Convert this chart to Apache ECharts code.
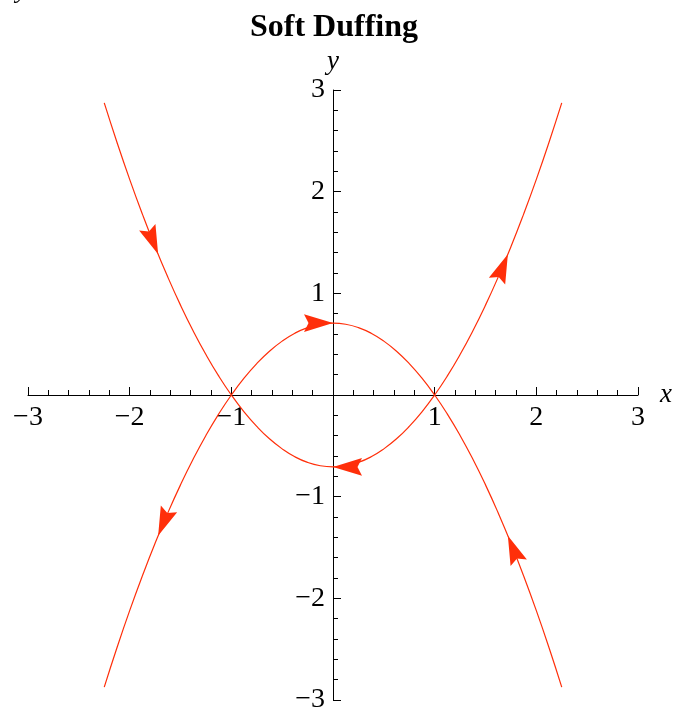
<!DOCTYPE html>
<html>
<head>
<meta charset="utf-8">
<title>Soft Duffing</title>
<script src="https://cdn.jsdelivr.net/npm/echarts@6/dist/echarts.min.js"></script>
<style>
  html, body { margin: 0; padding: 0; background: #fff; }
  #chart { width: 678px; height: 711px; }
</style>
</head>
<body>
<div id="chart"></div>
<script>
// Separatrices of the soft Duffing oscillator in the (x, y) phase plane.
const xs = [-2.25, -2.125, -2, -1.875, -1.75, -1.625, -1.5, -1.375, -1.25, -1.125,
            -1, -0.875, -0.75, -0.625, -0.5, -0.375, -0.25, -0.125, 0,
            0.125, 0.25, 0.375, 0.5, 0.625, 0.75, 0.875, 1,
            1.125, 1.25, 1.375, 1.5, 1.625, 1.75, 1.875, 2, 2.125, 2.25];
// Cap-shaped branch (peak at y = 0.707 on the y axis)
const yCap = [-2.873, -2.486, -2.121, -1.779, -1.458, -1.160, -0.884, -0.630, -0.398, -0.188,
              0, 0.166, 0.309, 0.431, 0.530, 0.608, 0.663, 0.696, 0.707,
              0.696, 0.663, 0.608, 0.530, 0.431, 0.309, 0.166, 0,
              -0.188, -0.398, -0.630, -0.884, -1.160, -1.458, -1.779, -2.121, -2.486, -2.873];
// Cup-shaped branch (trough at y = -0.707 on the y axis)
const yCup = [2.873, 2.486, 2.121, 1.779, 1.458, 1.160, 0.884, 0.630, 0.398, 0.188,
              0, -0.166, -0.309, -0.431, -0.530, -0.608, -0.663, -0.696, -0.707,
              -0.696, -0.663, -0.608, -0.530, -0.431, -0.309, -0.166, 0,
              0.188, 0.398, 0.630, 0.884, 1.160, 1.458, 1.779, 2.121, 2.486, 2.873];

// Flow-direction arrowheads: tip position, branch, and sense of travel along x
const arrowX = [-1.72, 1.72, 0, 0, -1.72, 1.72];
const arrowY = [1.385, 1.385, 0.707, -0.707, -1.385, -1.385];
const arrowBranch = ['cup', 'cup', 'cap', 'cup', 'cap', 'cap'];
const arrowSense = [1, 1, 1, -1, -1, -1];

const tickValues = [-3, -2, -1, 0, 1, 2, 3];

const branches = { cap: yCap, cup: yCup };
const RED = '#ff2f0a';
const SERIF = "'Liberation Serif', 'Times New Roman', Times, serif";

const tickLabel = v => (v === 0 ? '' : String(v).replace('-', '\u2212'));

function nearestIndex(x) {
  let best = 1, bestD = Infinity;
  for (let i = 1; i < xs.length - 1; i++) {
    const d = Math.abs(xs[i] - x);
    if (d < bestD) { bestD = d; best = i; }
  }
  return best;
}

function renderArrow(params, api) {
  const k = params.dataIndex;
  const ys = branches[arrowBranch[k]];
  const i = nearestIndex(arrowX[k]);
  const p0 = api.coord([xs[i - 1], ys[i - 1]]);
  const p1 = api.coord([xs[i + 1], ys[i + 1]]);
  let ux = (p1[0] - p0[0]) * arrowSense[k];
  let uy = (p1[1] - p0[1]) * arrowSense[k];
  const len = Math.hypot(ux, uy);
  ux /= len; uy /= len;
  const nx = -uy, ny = ux;
  const tip = api.coord([api.value(0), api.value(1)]);
  const L = 29, W = 8.8, notch = 4.5;
  const bx = tip[0] - L * ux, by = tip[1] - L * uy;
  const points = [
    tip,
    [bx + W * nx, by + W * ny],
    [tip[0] - (L - notch) * ux, tip[1] - (L - notch) * uy],
    [bx - W * nx, by - W * ny]
  ];
  return { type: 'polygon', shape: { points }, style: { fill: RED } };
}

// Axes sit on the grid edges and are shifted inward so they cross at the origin.
const GRID = { left: 28, right: 40, top: 90, bottom: 11 };
const axisCommon = {
  type: 'value',
  min: -3,
  max: 3,
  interval: 1,
  axisLine: { show: true, onZero: false, lineStyle: { color: '#000', width: 1 } },
  axisTick: { show: true, inside: true, length: 8, lineStyle: { color: '#000', width: 1 } },
  minorTick: { show: true, splitNumber: 5, length: 5, lineStyle: { color: '#000', width: 1 } },
  splitLine: { show: false },
  minorSplitLine: { show: false },
  nameTextStyle: { fontFamily: SERIF, fontStyle: 'italic', fontSize: 27, color: '#000' }
};

const chart = echarts.init(document.getElementById('chart'), null, { renderer: 'canvas' });
const plotW = 678 - GRID.left - GRID.right;
const plotH = 711 - GRID.top - GRID.bottom;

chart.setOption({
  animation: false,
  backgroundColor: '#fff',
  title: {
    text: 'Soft Duffing',
    left: 245,
    top: 7,
    textStyle: { fontFamily: SERIF, fontWeight: 'bold', fontSize: 32, color: '#000' }
  },
  graphic: [{
    type: 'text',
    left: 16,
    top: -22,
    style: { text: 'y', font: "italic 26px 'Liberation Serif', serif", fill: '#000' }
  }],
  grid: Object.assign({ containLabel: false, outerBoundsMode: 'none' }, GRID),
  xAxis: Object.assign({}, axisCommon, {
    position: 'bottom',
    offset: -plotH / 2,
    name: 'x',
    nameLocation: 'end',
    nameGap: 22,
    axisLabel: {
      formatter: tickLabel, fontFamily: SERIF, fontSize: 28, color: '#000', margin: 9,
      showMinLabel: true, showMaxLabel: true,
      customValues: tickValues
    }
  }),
  yAxis: Object.assign({}, axisCommon, {
    position: 'left',
    offset: -plotW / 2,
    name: 'y',
    nameLocation: 'end',
    nameGap: 15,
    axisLabel: {
      formatter: tickLabel, fontFamily: SERIF, fontSize: 28, color: '#000', margin: 8,
      showMinLabel: true, showMaxLabel: true,
      customValues: tickValues
    }
  }),
  series: [
    {
      type: 'line',
      data: xs.map((x, i) => [x, yCap[i]]),
      smooth: true,
      showSymbol: false,
      lineStyle: { color: RED, width: 1.2 },
      z: 3
    },
    {
      type: 'line',
      data: xs.map((x, i) => [x, yCup[i]]),
      smooth: true,
      showSymbol: false,
      lineStyle: { color: RED, width: 1.2 },
      z: 3
    },
    {
      type: 'custom',
      data: arrowX.map((x, i) => [x, arrowY[i]]),
      encode: { x: 0, y: 1 },
      renderItem: renderArrow,
      z: 4
    }
  ]
});
</script>
</body>
</html>
